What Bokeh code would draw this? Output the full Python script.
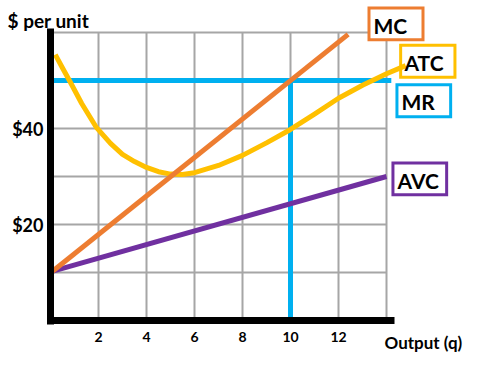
from bokeh.plotting import figure
from bokeh.models import Range1d, FixedTicker
from bokeh.embed import file_html
from bokeh.resources import INLINE
from bokeh.core.properties import value

# ---------------- data ----------------
q_ticks = [2, 4, 6, 8, 10, 12]
q_tick_labels = ["2", "4", "6", "8", "10", "12"]
price_ticks = [20, 40]
price_tick_labels = ["$20", "$40"]
grid_q = [2, 4, 6, 8, 10, 12, 14]
grid_price = [10, 20, 30, 40, 50, 60]

mc_q = [0.1, 12.4]
mc_cost = [10.3, 59.6]

avc_q = [0.1, 14.0]
avc_cost = [10.3, 30.0]

atc_q = [0.2, 0.5, 0.8, 1.3, 1.9, 2.5, 3.0, 3.5, 4.0, 4.5, 5.0, 5.5, 6.0, 7.0, 8.0, 9.0, 10.0, 11.0, 12.0, 13.0, 14.0, 14.8]
atc_cost = [55.4, 52.6, 49.9, 45.2, 40.3, 36.9, 34.6, 33.1, 31.9, 31.0, 30.5, 30.4, 30.8, 32.3, 34.4, 37.0, 39.8, 43.0, 46.3, 49.0, 51.4, 53.1]

mr_price = 50
mr_q = [0.0, 14.2]
q_star = 10

curve_names = ["MC", "ATC", "MR", "AVC"]
curve_colors = ["#ED7D31", "#FFC000", "#00B0F0", "#7030A0"]

# ---------------- figure ----------------
X0, PXX = 50, 24.0     # pixel of q=0, pixels per unit q
Y0, PXY = 320, 4.8     # pixel of $0, pixels per $
W, H = 480, 370


def fx(px):
    return (px - X0) / PXX


def fy(py):
    return (Y0 - py) / PXY


p = figure(width=W, height=H, output_backend="svg", toolbar_location=None,
           x_range=Range1d(fx(0), fx(W)), y_range=Range1d(fy(H), fy(0)),
           min_border=0, outline_line_color=None)
p.grid.visible = False
p.background_fill_color = "white"
p.border_fill_color = "white"

FONT = "Lato"

# grid
p.segment(x0=grid_q, y0=[0] * len(grid_q), x1=grid_q, y1=[max(grid_price)] * len(grid_q),
          line_color="#A6A6A6", line_width=2)
p.segment(x0=[0] * len(grid_price), y0=grid_price, x1=[max(grid_q)] * len(grid_price), y1=grid_price,
          line_color="#A6A6A6", line_width=2)

# label boxes (pixel centre x, centre y, width, height)
boxes = [(395.5, 23.4, 54, 31.7), (427.3, 60.8, 54.3, 32), (423.3, 100.2, 53.7, 32), (419.3, 178.3, 53.7, 31.7)]
for (cx, cy, w, h), col in zip(boxes, curve_colors):
    p.rect(x=fx(cx), y=fy(cy), width=w / PXX, height=h / PXY, fill_color="white",
           line_color=col, line_width=3, line_join="miter")

# curves
p.line(mr_q, [mr_price] * 2, line_color=curve_colors[2], line_width=5)
p.line([q_star, q_star], [0, mr_price], line_color=curve_colors[2], line_width=5)
p.line(avc_q, avc_cost, line_color=curve_colors[3], line_width=5)
p.line(atc_q, atc_cost, line_color=curve_colors[1], line_width=5, line_join="round")
p.line(mc_q, mc_cost, line_color=curve_colors[0], line_width=5)

# label texts (pixel left, baseline)
TY = 6  # svg baseline correction
text_pos = [(373, 31), (404, 68), (401, 107), (397, 186)]
for (lx, by), name in zip(text_pos, curve_names):
    p.text(x=[fx(lx)], y=[fy(by - TY)], text=[name], text_font=value(FONT), text_font_style="bold",
           text_font_size="21px", text_color="black", text_baseline="alphabetic", text_align="left")

p.text(x=[fx(7)], y=[fy(26 - TY)], text=["$ per unit"], text_font=value(FONT), text_font_style="bold",
       text_font_size="19px", text_color="black", text_baseline="alphabetic", text_align="left")
p.text(x=[fx(384)], y=[fy(348 - TY)], text=["Output (q)"], text_font=value(FONT), text_font_style="bold",
       text_font_size="17px", text_color="black", text_baseline="alphabetic", text_align="left")

# axes
xa = p.xaxis[0]
xa.fixed_location = 0
xa.ticker = FixedTicker(ticks=q_ticks)
xa.major_label_overrides = dict(zip(q_ticks, q_tick_labels))
xa.bounds = (fx(46.5), fx(394))
ya = p.yaxis[0]
ya.fixed_location = 0
ya.ticker = FixedTicker(ticks=price_ticks)
ya.major_label_overrides = dict(zip(price_ticks, price_tick_labels))
ya.bounds = (fy(323.5), fy(28))
for ax in (xa, ya):
    ax.axis_line_color = "black"
    ax.axis_line_width = 7
    ax.major_tick_line_color = None
    ax.minor_tick_line_color = None
    ax.major_tick_out = 0
    ax.major_tick_in = 0
    ax.major_label_text_font = FONT
    ax.major_label_text_font_style = "bold"
    ax.major_label_text_color = "black"
xa.major_label_text_font_size = "14px"
xa.major_label_standoff = 11
ya.major_label_text_font_size = "18px"
ya.major_label_standoff = 7

open("out.html", "w").write(file_html(p, INLINE))
